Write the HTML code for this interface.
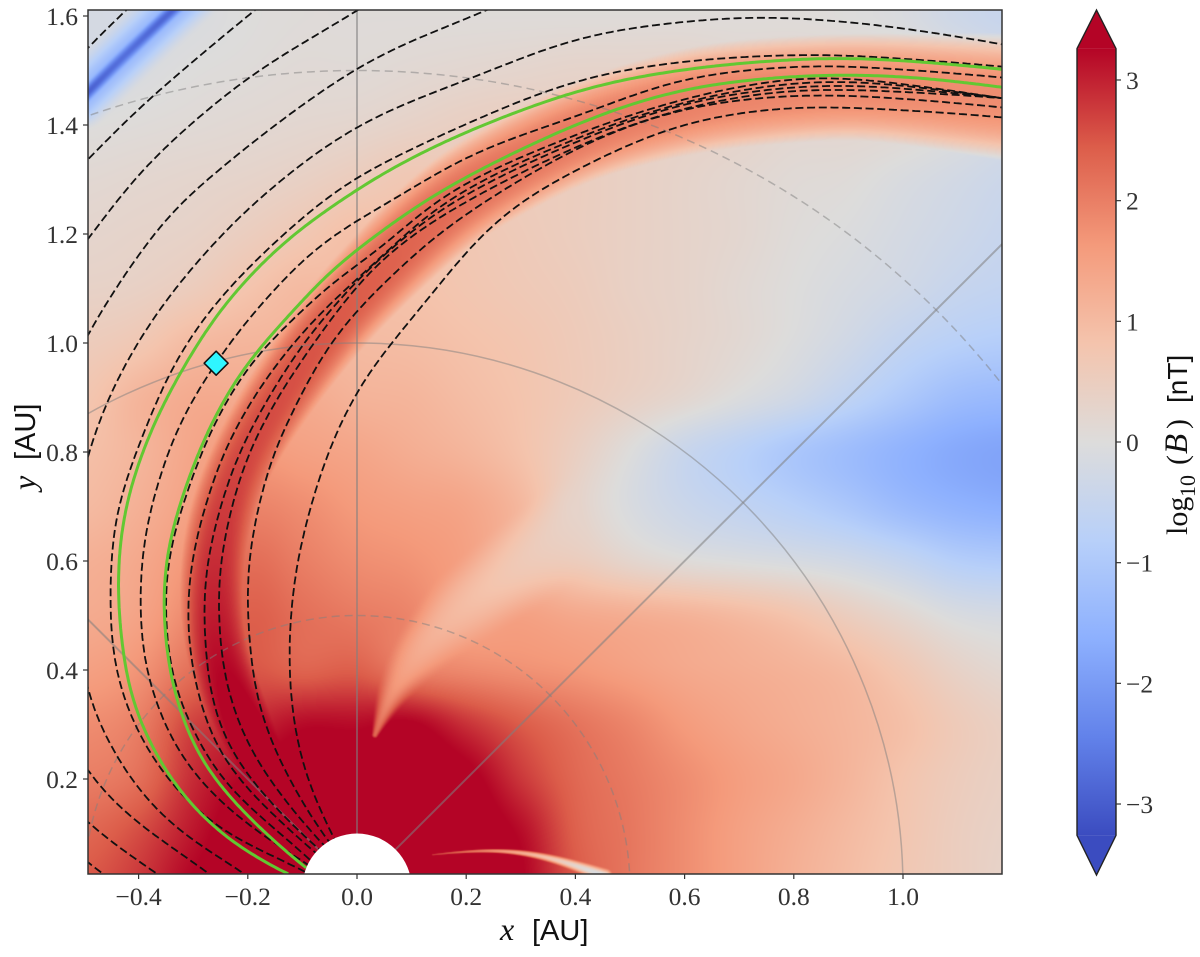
<!DOCTYPE html>
<html>
<head>
<meta charset="utf-8">
<title>Magnetic field strength map</title>
<style>
html,body{margin:0;padding:0;background:#fff;width:1200px;height:957px;overflow:hidden;}
#fig{position:relative;width:1200px;height:957px;overflow:hidden;background:#fff;}
#heat{position:absolute;left:88px;top:10px;width:914px;height:864px;display:block;}
#ov{position:absolute;left:0;top:0;display:block;}
.tick-label{font-family:"Liberation Serif",serif;font-size:25.5px;fill:#333;}
.serif{font-family:"Liberation Serif",serif;fill:#111;}
.sans{font-family:"Liberation Sans",sans-serif;fill:#111;}
</style>
</head>
<body>
<div id="fig">
<canvas id="heat" width="914" height="864"></canvas>
<svg id="ov" width="1200" height="957" viewBox="0 0 1200 957" xmlns="http://www.w3.org/2000/svg">
  <defs>
    <clipPath id="axclip"><rect x="88" y="10" width="914" height="864"/></clipPath>
    <linearGradient id="cbgrad" x1="0" y1="1" x2="0" y2="0"></linearGradient>
  </defs>
  <g id="plot" clip-path="url(#axclip)">
    <g id="guides"></g>
    <g id="black-lines"></g>
    <g id="green-lines"></g>
    <path id="sun" fill="#fff"></path>
    <polygon id="probe" fill="#2ff6ff" stroke="#111" stroke-width="1.5" stroke-linejoin="round"></polygon>
  </g>
  <rect x="88" y="10" width="914" height="864" fill="none" stroke="#333" stroke-width="1.5"/>
  <g id="xticks"></g>
  <g id="yticks"></g>
  <g>
    <text class="serif" x="500" y="940" font-size="32" font-style="italic">x</text>
    <text class="sans" x="532" y="940" font-size="29">[AU]</text>
  </g>
  <g transform="translate(35,490) rotate(-90)">
    <text class="serif" x="0" y="0" font-size="32" font-style="italic">y</text>
    <text class="sans" x="30" y="0" font-size="29">[AU]</text>
  </g>
  <g id="colorbar"></g>
  <g transform="translate(1187,535) rotate(-90)">
    <text class="serif" x="0" y="0" font-size="30">log</text>
    <text class="serif" x="38" y="8" font-size="22">10</text>
    <text class="serif" x="70" y="0" font-size="30">(</text>
    <text class="serif" x="81" y="0" font-size="33" font-style="italic">B</text>
    <text class="serif" x="106" y="0" font-size="30">)</text>
    <text class="sans" x="132" y="0" font-size="28">[nT]</text>
  </g>
</svg>
</div>
<script>
// ---- axis tick data ----
const xTicks = [-0.4,-0.2,0,0.2,0.4,0.6,0.8,1.0];
const xTickLabels = ["\u22120.4","\u22120.2","0.0","0.2","0.4","0.6","0.8","1.0"];
const yTicks = [0.2,0.4,0.6,0.8,1.0,1.2,1.4,1.6];
const yTickLabels = ["0.2","0.4","0.6","0.8","1.0","1.2","1.4","1.6"];
const cbTicks = [-3,-2,-1,0,1,2,3];
const cbTickLabels = ["\u22123","\u22122","\u22121","0","1","2","3"];
const colorMax = 3.26;

// ---- colormap (coolwarm) ----
const cmapStops = [[59,76,192],[98,130,234],[141,176,254],[184,208,249],[221,220,219],[244,196,173],[244,154,123],[220,93,74],[180,4,38]];

// ---- background log10(B) grid ----
const fieldX = [-0.5,-0.4,-0.3,-0.2,-0.1,0,0.1,0.2,0.3,0.4,0.5,0.6,0.7,0.8,0.9,1.0,1.1,1.2];
const fieldY = [1.6,1.5,1.4,1.3,1.2,1.1,1.0,0.9,0.8,0.7,0.6,0.5,0.4,0.3,0.2,0.1,0];
const fieldValues = [
[-.2,-.2,-.1,0,.05,.05,.05,.05,.05,.05,.05,.05,.05,.05,0,-.1,-.35,-.5],
[-.2,-.1,0,.05,.1,.1,.15,.2,.25,.3,.3,.3,.2,.2,.2,.15,0,-.2],
[0,.05,.1,.15,.2,.25,.35,.45,.5,.45,.4,.35,.3,.2,.2,.15,0,-.2],
[.15,.2,.25,.3,.4,.55,.7,.6,.55,.5,.4,.3,.2,.1,.05,-.1,-.25,-.4],
[.25,.3,.35,.5,.7,.9,.8,.7,.6,.5,.4,.3,.2,.05,-.05,-.2,-.35,-.5],
[.35,.4,.55,.8,1,.9,.85,.75,.65,.55,.4,.3,.15,0,-.15,-.3,-.5,-.6],
[.55,.7,1,1.1,1.1,1,.95,.85,.75,.6,.45,.3,.15,-.05,-.3,-.6,-.8,-.9],
[.75,1.1,1.3,1.3,1.3,1.15,1.1,.95,.8,.6,.4,.2,-.05,-.3,-.65,-1,-1.3,-1.4],
[.9,1.1,1.4,1.6,1.5,1.4,1.25,1.1,.85,.45,0,-.45,-.75,-1.05,-1.3,-1.55,-1.75,-1.85],
[1,1.2,1.5,1.9,1.8,1.6,1.5,1.4,1.05,.35,-.1,-.4,-.6,-.8,-1.05,-1.35,-1.55,-1.65],
[1.2,1.35,1.7,2.2,2,1.8,1.7,1.5,1.1,.6,.25,.05,-.05,-.15,-.3,-.55,-.85,-.95],
[1.3,1.45,1.9,2.4,2.2,2.05,1.9,1.5,1.5,1.35,1.25,1.15,1,.8,.5,.2,-.1,-.2],
[1.5,1.7,2.2,2.5,2.35,2.4,2,1.85,1.75,1.65,1.5,1.35,1.25,1.15,1,.7,.35,.15],
[1.8,2,2.7,2.9,3.2,3.2,3.3,2.85,2.45,2.15,1.9,1.6,1.4,1.25,1.1,.9,.6,.4],
[2,2.2,2.9,3.3,3.5,3.5,3.5,3.4,2.8,2.3,2.05,1.8,1.55,1.35,1.1,.8,.55,.4],
[2.3,2.6,3.1,3.5,3.5,3.5,3.5,3.5,3.2,2.4,2.1,1.8,1.5,1.25,1,.75,.5,.35],
[2.5,2.8,3.3,3.5,3.5,3.5,3.5,3.5,3.3,2.5,2.1,1.8,1.5,1.2,.95,.7,.5,.3]
];

// ---- compressed band along the structure ----
const bandX = [-.068,-.141,-.205,-.255,-.262,-.262,-.242,-.190,-.128,-.068,.005,.170,.408,.628,.903,1.196];
const bandY = [.106,.180,.290,.400,.510,.610,.712,.835,.919,1.015,1.097,1.262,1.391,1.451,1.473,1.450];
const bandPeak = [3.5,3.5,3.5,3.25,3.0,2.9,2.7,2.62,2.58,2.5,2.45,2.25,2.05,1.95,1.85,1.8];
const bandWidth = [.14,.13,.10,.085,.085,.085,.08,.08,.08,.082,.085,.09,.09,.095,.09,.10];

// ---- low-field features ----
const wedgeX = [.033,.064,.124,.198,.299,.408];
const wedgeY = [.281,.363,.446,.519,.592,.675];
const wedgeValue = [2.3,1.65,1.2,.95,.65,.3];
const wedgeWidth = [.008,.035,.06,.08,.09,.09];
const sheetX = [.139,.244,.342,.408,.454];
const sheetY = [.061,.072,.061,.039,.022];
const sheetValue = [2.8,1.8,.9,0,-.2];
const sheetWidth = [.003,.005,.008,.012,.016];
const stripeX = [-.507,-.434,-.342,-.306];
const stripeY = [1.446,1.519,1.607,1.639];
const stripeHaloValue = [-1.5,-1.5,-1.5,-1.5];
const stripeHaloWidth = [.06,.06,.06,.06];
const stripeCoreValue = [-3,-2.7,-2.9,-2.8];
const stripeCoreWidth = [.016,.016,.016,.016];

// ---- field lines [x AU, y AU] ----
const lineO1 = [[-.544,1.486],[-.493,1.543],[-.425,1.609],[-.397,1.635]];
const lineO2 = [[-.452,.015],[-.462,.026],[-.493,.046],[-.581,.125],[-.709,.437],[-.745,.804],[-.672,1.097],[-.581,1.244],[-.493,1.336],[-.397,1.433],[-.190,1.609],[-.159,1.633]];
const lineO3 = [[-.352,.015],[-.364,.026],[-.432,.070],[-.493,.119],[-.581,.217],[-.654,.492],[-.663,.804],[-.599,1.042],[-.493,1.189],[-.471,1.220],[-.385,1.327],[-.201,1.486],[0,1.609],[.033,1.631]];
const lineO4 = [[-.260,.015],[-.267,.026],[-.341,.075],[-.432,.143],[-.493,.211],[-.562,.345],[-.590,.602],[-.562,.859],[-.493,1.018],[-.471,1.055],[-.403,1.158],[-.319,1.262],[0,1.505],[.234,1.609],[.280,1.629]];
const lineO5 = [[-.196,.015],[-.200,.026],[-.278,.070],[-.370,.143],[-.438,.235],[-.493,.350],[-.507,.437],[-.522,.602],[-.511,.730],[-.493,.795],[-.458,.895],[-.392,1.018],[-.306,1.134],[-.183,1.262],[0,1.398],[.225,1.492],[.408,1.560],[.592,1.589],[.751,1.598],[.958,1.583],[1.179,1.549],[1.22,1.541]];
const lineB = [[-.077,.018],[-.095,.033],[-.231,.094],[-.310,.156],[-.370,.229],[-.407,.295],[-.438,.376],[-.451,.455],[-.452,.528],[-.451,.602],[-.447,.657],[-.429,.736],[-.410,.785],[-.348,.938],[-.288,1.037],[-.227,1.110],[-.141,1.194],[-.062,1.262],[0,1.306],[.225,1.413],[.408,1.483],[.592,1.516],[.775,1.528],[.897,1.528],[1.179,1.508],[1.22,1.503]];
const lineC = [[-.068,.029],[-.095,.046],[-.205,.119],[-.291,.198],[-.341,.272],[-.383,.382],[-.396,.455],[-.397,.528],[-.396,.602],[-.379,.694],[-.352,.785],[-.311,.883],[-.258,.963],[-.227,1.011],[-.165,1.083],[-.081,1.171],[0,1.226],[.042,1.248],[.207,1.345],[.408,1.418],[.592,1.483],[.775,1.506],[.897,1.508],[1.179,1.488],[1.22,1.483]];
const lineD = [[-.071,.037],[-.090,.057],[-.176,.130],[-.249,.198],[-.310,.308],[-.341,.387],[-.348,.455],[-.352,.528],[-.348,.602],[-.324,.688],[-.291,.785],[-.262,.853],[-.222,.923],[-.178,.987],[-.110,1.048],[-.044,1.116],[.018,1.152],[.165,1.275],[.408,1.385],[.592,1.446],[.775,1.483],[.903,1.486],[1.179,1.450],[1.22,1.443]];
const lineE = [[-.068,.059],[-.084,.070],[-.205,.185],[-.260,.259],[-.297,.376],[-.310,.455],[-.311,.510],[-.304,.602],[-.251,.785],[-.201,.883],[-.147,.963],[-.092,1.029],[-.044,1.079],[.005,1.121],[.165,1.262],[.408,1.378],[.592,1.440],[.775,1.475],[.927,1.479],[1.179,1.450],[1.22,1.444]];
const lineF = [[-.059,.064],[-.077,.075],[-.168,.167],[-.231,.248],[-.269,.350],[-.278,.455],[-.282,.510],[-.275,.602],[-.223,.785],[-.165,.895],[-.104,.993],[-.044,1.066],[.018,1.134],[.165,1.253],[.408,1.372],[.592,1.437],[.775,1.468],[.927,1.472],[1.179,1.450],[1.22,1.445]];
const lineG = [[-.053,.073],[-.068,.083],[-.132,.161],[-.194,.248],[-.242,.376],[-.251,.455],[-.255,.528],[-.251,.602],[-.205,.785],[-.141,.908],[-.092,.982],[-.031,1.066],[.037,1.147],[.165,1.240],[.408,1.363],[.592,1.429],[.775,1.462],[.927,1.464],[1.179,1.450],[1.22,1.446]];
const lineH = [[-.044,.079],[-.057,.088],[-.103,.161],[-.145,.240],[-.181,.332],[-.198,.455],[-.201,.528],[-.200,.602],[-.159,.785],[-.123,.864],[-.055,.993],[0,1.061],[.042,1.103],[.165,1.213],[.408,1.360],[.592,1.428],[.775,1.453],[.927,1.453],[1.179,1.433],[1.22,1.428]];
const lineI = [[-.035,.079],[-.044,.094],[-.077,.161],[-.103,.235],[-.121,.339],[-.125,.455],[-.119,.528],[-.110,.602],[-.059,.785],[0,.914],[.042,.974],[.103,1.048],[.256,1.226],[.408,1.321],[.592,1.400],[.775,1.431],[.927,1.431],[1.179,1.415],[1.22,1.410]];
const greenOuter = [[-.126,.026],[-.212,.070],[-.278,.125],[-.333,.185],[-.383,.272],[-.414,.345],[-.432,.455],[-.438,.528],[-.438,.602],[-.421,.717],[-.385,.822],[-.355,.890],[-.324,.945],[-.256,1.055],[-.178,1.143],[-.104,1.211],[-.027,1.262],[0,1.284],[.165,1.372],[.408,1.464],[.592,1.501],[.775,1.519],[.897,1.523],[1.018,1.517],[1.179,1.503],[1.22,1.498]];
const greenInner = [[-.093,.037],[-.163,.094],[-.223,.156],[-.273,.211],[-.315,.295],[-.337,.363],[-.352,.455],[-.355,.528],[-.352,.602],[-.330,.688],[-.297,.785],[-.267,.853],[-.227,.927],[-.183,.987],[-.110,1.066],[-.044,1.139],[.005,1.174],[.042,1.204],[.165,1.286],[.408,1.404],[.592,1.464],[.775,1.488],[.897,1.492],[1.018,1.488],[1.179,1.470],[1.22,1.464]];
const blackLines = [lineO1,lineO2,lineO3,lineO4,lineO5,lineB,lineC,lineD,lineE,lineF,lineG,lineH,lineI];
const greenLines = [greenOuter,greenInner];

// ---- other values ----
const guideRadii = [0.5,1.0,1.5];
const guideDashed = [true,false,true];
const guideAngles = [45,90,135];
const sunRadius = 0.1;
const probePosition = [-.258,.963];

// ---- axis functions ----
function xPx(x){return 357+546*x;}
function yPx(y){return 888-545*y;}
function cbPx(v){return 442-120.67*v;}
const NS="http://www.w3.org/2000/svg";
function mk(tag,attrs,parent){const e=document.createElementNS(NS,tag);for(const k in attrs)e.setAttribute(k,attrs[k]);parent.appendChild(e);return e;}

// Resample channels by arc length of the first two, then smooth with a symmetric moving average
function smoothChannels(ch,step,h,passes){
  const n=ch[0].length,m=ch.length;
  let out=ch.map(c=>[c[0]]),carry=0;
  for(let i=0;i<n-1;i++){
    const len=Math.hypot(ch[0][i+1]-ch[0][i],ch[1][i+1]-ch[1][i])||1e-6;
    let d=step-carry;
    while(d<len){
      const t=d/len;
      for(let k=0;k<m;k++)out[k].push(ch[k][i]+(ch[k][i+1]-ch[k][i])*t);
      d+=step;
    }
    carry=len-(d-step);
  }
  for(let k=0;k<m;k++)out[k].push(ch[k][n-1]);
  for(let p=0;p<passes;p++){
    out=out.map(function(c){
      const L=c.length;
      return c.map(function(_,i){
        const w=Math.min(h,i,L-1-i);
        let s=0;
        for(let j=i-w;j<=i+w;j++)s+=c[j];
        return s/(2*w+1);
      });
    });
  }
  return out;
}
function feature(X,Y,V,W,step,h){
  const c=smoothChannels([X,Y,V,W],step,h,2);
  let maxW=0;
  c[3].forEach(w=>{if(w>maxW)maxW=w;});
  return {X:c[0],Y:c[1],V:c[2],W:c[3],
    x0:Math.min.apply(null,c[0])-maxW,x1:Math.max.apply(null,c[0])+maxW,
    y0:Math.min.apply(null,c[1])-maxW,y1:Math.max.apply(null,c[1])+maxW};
}
const bandF=feature(bandX,bandY,bandPeak,bandWidth,.025,3);
const troughFeatures=[
  feature(wedgeX,wedgeY,wedgeValue,wedgeWidth,.012,3),
  feature(sheetX,sheetY,sheetValue,sheetWidth,.01,5),
  feature(stripeX,stripeY,stripeHaloValue,stripeHaloWidth,.02,1),
  feature(stripeX,stripeY,stripeCoreValue,stripeCoreWidth,.02,1)
];

function colorOf(v){
  let t=(v+colorMax)/(2*colorMax);
  t=Math.max(0,Math.min(1,t))*(cmapStops.length-1);
  const i=Math.min(cmapStops.length-2,Math.floor(t)),f=t-i,a=cmapStops[i],b=cmapStops[i+1];
  return [a[0]+(b[0]-a[0])*f,a[1]+(b[1]-a[1])*f,a[2]+(b[2]-a[2])*f];
}
function cr(a,b,c,d,t){return b+0.5*t*(c-a+t*(2*a-5*b+4*c-d+t*(3*(b-c)+d-a)));}
function baseField(x,y){
  const dx=fieldX[1]-fieldX[0],dy=fieldY[0]-fieldY[1];
  let fx=(x-fieldX[0])/dx,fy=(fieldY[0]-y)/dy;
  fx=Math.max(0,Math.min(fieldX.length-1.001,fx));fy=Math.max(0,Math.min(fieldY.length-1.001,fy));
  const ix=Math.floor(fx),iy=Math.floor(fy),tx=fx-ix,ty=fy-iy,r=[];
  for(let j=-1;j<=2;j++){
    const row=fieldValues[Math.max(0,Math.min(fieldY.length-1,iy+j))];
    const g=k=>row[Math.max(0,Math.min(fieldX.length-1,ix+k))];
    r.push(cr(g(-1),g(0),g(1),g(2),tx));
  }
  return cr(r[0],r[1],r[2],r[3],ty);
}
function nearest(x,y,F){
  const X=F.X,Y=F.Y,A=F.V,B=F.W;
  let best=1e9,ra=0,rb=0;
  for(let i=0;i<X.length-1;i++){
    const ux=X[i+1]-X[i],uy=Y[i+1]-Y[i];
    let t=((x-X[i])*ux+(y-Y[i])*uy)/(ux*ux+uy*uy);
    t=t<0?0:t>1?1:t;
    const ex=x-X[i]-ux*t,ey=y-Y[i]-uy*t,d=ex*ex+ey*ey;
    if(d<best){best=d;ra=A[i]+(A[i+1]-A[i])*t;rb=B[i]+(B[i+1]-B[i])*t;}
  }
  return [Math.sqrt(best),ra,rb];
}
function trough(v,x,y,F){
  if(x<F.x0||x>F.x1||y<F.y0||y>F.y1)return v;
  const n=nearest(x,y,F),q=n[0]/n[2];
  if(q>=1)return v;
  const f=(1-q*q)*(1-q*q),target=n[1];
  return target<v?v+(target-v)*f:v;
}
function fieldAt(x,y){
  let v=baseField(x,y);
  const n=nearest(x,y,bandF),q=n[0]/n[2];
  if(q<1.2){
    const b=0.4+(n[1]-0.4)*(1-Math.pow(q,2.6));
    if(b>v)v=b;
  }
  for(let i=0;i<troughFeatures.length;i++)v=trough(v,x,y,troughFeatures[i]);
  return v;
}
(function paintHeat(){
  const cv=document.getElementById('heat'),ctx=cv.getContext('2d');
  const W=cv.width,H=cv.height,img=ctx.createImageData(W,H),d=img.data;
  for(let j=0;j<H;j++){
    const y=(888-(10+j+0.5))/545;
    for(let i=0;i<W;i++){
      const x=(88+i+0.5-357)/546,c=colorOf(fieldAt(x,y)),o=(j*W+i)*4;
      d[o]=c[0];d[o+1]=c[1];d[o+2]=c[2];d[o+3]=255;
    }
  }
  ctx.putImageData(img,0,0);
})();
// Chord-length spline through the read points, sampled densely
function splineOf(P){
  const outX=[],outY=[];
  const len=(a,b)=>Math.hypot(a[0]-b[0],a[1]-b[1])||1;
  for(let i=0;i<P.length-1;i++){
    const p0=P[Math.max(0,i-1)],p1=P[i],p2=P[i+1],p3=P[Math.min(P.length-1,i+2)];
    const seg=len(p1,p2),d1=len(p1,p0)+seg,d2=seg+len(p3,p2);
    const c1=[p1[0]+(p2[0]-p0[0])/d1*seg/3,p1[1]+(p2[1]-p0[1])/d1*seg/3];
    const c2=[p2[0]-(p3[0]-p1[0])/d2*seg/3,p2[1]-(p3[1]-p1[1])/d2*seg/3];
    const steps=Math.max(2,Math.ceil(seg/3));
    for(let k=0;k<steps;k++){
      const t=k/steps,u=1-t;
      outX.push(u*u*u*p1[0]+3*u*u*t*c1[0]+3*u*t*t*c2[0]+t*t*t*p2[0]);
      outY.push(u*u*u*p1[1]+3*u*u*t*c1[1]+3*u*t*t*c2[1]+t*t*t*p2[1]);
    }
  }
  const last=P[P.length-1];
  outX.push(last[0]);outY.push(last[1]);
  return [outX,outY];
}
function pathOf(pts){
  const s0=splineOf(pts.map(p=>[xPx(p[0]),yPx(p[1])]));
  const c=smoothChannels(s0,3,10,3);
  let s="";
  for(let i=0;i<c[0].length;i++)s+=(i?"L":"M")+c[0][i].toFixed(1)+" "+c[1][i].toFixed(1);
  return s;
}
// guides
const guideG=document.getElementById('guides');
guideRadii.forEach(function(r,i){
  const rx=546*r,ry=545*r;
  const el=mk('path',{d:'M'+(xPx(0)-rx)+' '+yPx(0)+'A'+rx+' '+ry+' 0 0 1 '+(xPx(0)+rx)+' '+yPx(0),fill:'none',stroke:'#7f7f7f','stroke-opacity':0.5,'stroke-width':1.5},guideG);
  if(guideDashed[i])el.setAttribute('stroke-dasharray','8 5');
  
  
});
guideAngles.forEach(function(a){
  const t=a*Math.PI/180;
  const el=mk('line',{x1:xPx(sunRadius*Math.cos(t)),y1:yPx(sunRadius*Math.sin(t)),x2:xPx(2.4*Math.cos(t)),y2:yPx(2.4*Math.sin(t)),stroke:'#7f7f7f','stroke-opacity':0.55,'stroke-width':2},guideG);
  
  
});
// lines
const blackG=document.getElementById('black-lines');
blackLines.forEach(function(pts){
  const el=mk('path',{d:pathOf(pts),fill:'none',stroke:'#111','stroke-width':1.8,'stroke-dasharray':'8 3.7'},blackG);
  
  
});
const greenG=document.getElementById('green-lines');
greenLines.forEach(function(pts){
  const el=mk('path',{d:pathOf(pts),fill:'none',stroke:'#62c832','stroke-width':3},greenG);
  
  
});
// inner boundary disc (upper half is all that falls inside the axes)
(function(){
  const rx=546*sunRadius,ry=545*sunRadius;
  document.getElementById('sun').setAttribute('d','M'+(xPx(0)-rx)+' '+yPx(0)+'A'+rx+' '+ry+' 0 0 1 '+(xPx(0)+rx)+' '+yPx(0)+'Z');
})();
// probe
(function(){
  const cx=xPx(probePosition[0]),cy=yPx(probePosition[1]),s=12;
  document.getElementById('probe').setAttribute('points',[cx,cy-s,cx+s,cy,cx,cy+s,cx-s,cy].join(' '));
})();
// ticks
const xG=document.getElementById('xticks');
xTicks.forEach(function(v,i){
  const t=mk('line',{x1:xPx(v),x2:xPx(v),y1:874,y2:879,stroke:'#333','stroke-width':1.2},xG);
  
  
  const l=mk('text',{x:xPx(v),y:905,'text-anchor':'middle','class':'tick-label'},xG);
  l.textContent=xTickLabels[i];
  
  
});
const yG=document.getElementById('yticks');
yTicks.forEach(function(v,i){
  const t=mk('line',{x1:83,x2:88,y1:yPx(v),y2:yPx(v),stroke:'#333','stroke-width':1.2},yG);
  
  
  const l=mk('text',{x:78,y:yPx(v)+9,'text-anchor':'end','class':'tick-label'},yG);
  l.textContent=yTickLabels[i];
  
  
});
// colorbar
const grad=document.getElementById('cbgrad');
cmapStops.forEach(function(c,i){
  mk('stop',{offset:i/(cmapStops.length-1),'stop-color':'rgb('+c.join(',')+')'},grad);
});
const cb=document.getElementById('colorbar');
const cbL=1077,cbR=1116,cbT=cbPx(colorMax),cbB=cbPx(-colorMax),cbC=(cbL+cbR)/2;
const topTip=mk('polygon',{points:cbL+','+cbT+' '+cbC+',10 '+cbR+','+cbT,fill:'rgb('+cmapStops[cmapStops.length-1].join(',')+')'},cb);


const botTip=mk('polygon',{points:cbL+','+cbB+' '+cbC+',875 '+cbR+','+cbB,fill:'rgb('+cmapStops[0].join(',')+')'},cb);


const cbRect=mk('rect',{x:cbL,y:cbT,width:cbR-cbL,height:cbB-cbT,fill:'url(#cbgrad)'},cb);


const cbOut=mk('path',{d:'M'+cbL+' '+cbT+'L'+cbC+' 10L'+cbR+' '+cbT+'L'+cbR+' '+cbB+'L'+cbC+' 875L'+cbL+' '+cbB+'Z',fill:'none',stroke:'#222','stroke-width':1.4},cb);


cbTicks.forEach(function(v,i){
  const t=mk('line',{x1:cbR,x2:cbR+5,y1:cbPx(v),y2:cbPx(v),stroke:'#333','stroke-width':1.2},cb);
  
  
  const l=mk('text',{x:1126,y:cbPx(v)+9,'class':'tick-label'},cb);
  l.textContent=cbTickLabels[i];
  
  
});
</script>
</body>
</html>
